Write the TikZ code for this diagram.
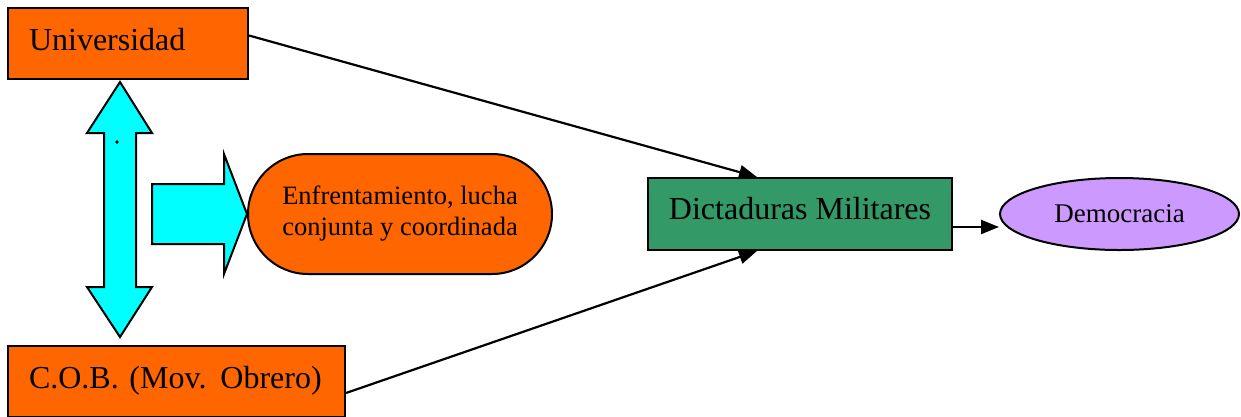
\documentclass[tikz,border=0pt]{standalone}
\usepackage{fontspec}
\setmainfont{Liberation Serif}
\usetikzlibrary{shapes.geometric, arrows.meta, positioning}
\definecolor{naranja}{HTML}{FF6600}
\definecolor{verde}{HTML}{339966}
\definecolor{lila}{HTML}{CC99FF}
\definecolor{celeste}{HTML}{00FFFF}
\tikzstyle{actor} = [rectangle, draw, line width=2pt, fill=naranja, minimum height=71pt, inner xsep=21pt, align=left, text depth=9pt, font=\fontsize{32}{38}\selectfont\frenchspacing]
\tikzstyle{regimen} = [rectangle, draw, line width=2pt, fill=verde, minimum width=304pt, minimum height=72pt, text depth=12pt, font=\fontsize{32}{38}\selectfont]
\tikzstyle{meta} = [ellipse, draw, line width=2pt, fill=lila, minimum width=239pt, minimum height=72pt, inner sep=0pt, font=\fontsize{27}{32}\selectfont]
\tikzstyle{lucha} = [rectangle, draw, line width=2pt, fill=naranja, rounded corners=60pt, minimum width=304pt, minimum height=120pt, align=center, font=\fontsize{26.5}{31}\selectfont]
\tikzstyle{link} = [line width=2.2pt, -{Triangle[length=18pt, width=14pt]}, black]
\tikzstyle{bloque} = [draw, line width=2pt, fill=celeste, line join=miter]

\begin{document}
\begin{tikzpicture}[x=1pt, y=-1pt]

	\useasboundingbox (0,0) rectangle (1241,416);

	% Actors
	\node (univ) [actor, text width=198pt] at (128,43.5) {Universidad};
	\node (cob) [actor, text width=295pt] at (176.5,381.5) {C.O.B.~(Mov.\hspace{14pt}Obrero)};

	% Joint action
	\node (lucha) [lucha] at (400,214) {Enfrentamiento, lucha\\conjunta y coordinada};

	% Regime and outcome
	\node (dict) [regimen] at (800,214) {Dictaduras Militares};
	\node (demo) [meta] at (1119.5,214) {Democracia};

	% Block arrows
	\draw[bloque] (120,82) -- (152,133) -- (136,133) -- (136,287) -- (152,287) -- (120,337)
		-- (87,287) -- (104,287) -- (104,133) -- (87,133) -- cycle;
	\fill (117,142) circle (1.8);
	\draw[bloque] (152,184) -- (224,184) -- (224,154) -- (247,214) -- (224,274) -- (224,244)
		-- (152,244) -- cycle;

	% Arrows
	\draw[link] ([yshift=8pt]univ.east) -- ([xshift=-43pt]dict.north);
	\draw[link] ([yshift=-11.5pt]cob.east) -- ([xshift=-43pt]dict.south);
	\draw[link] ([yshift=-13pt]dict.east) -- ([yshift=-13pt]demo.west);

\end{tikzpicture}
\end{document}
